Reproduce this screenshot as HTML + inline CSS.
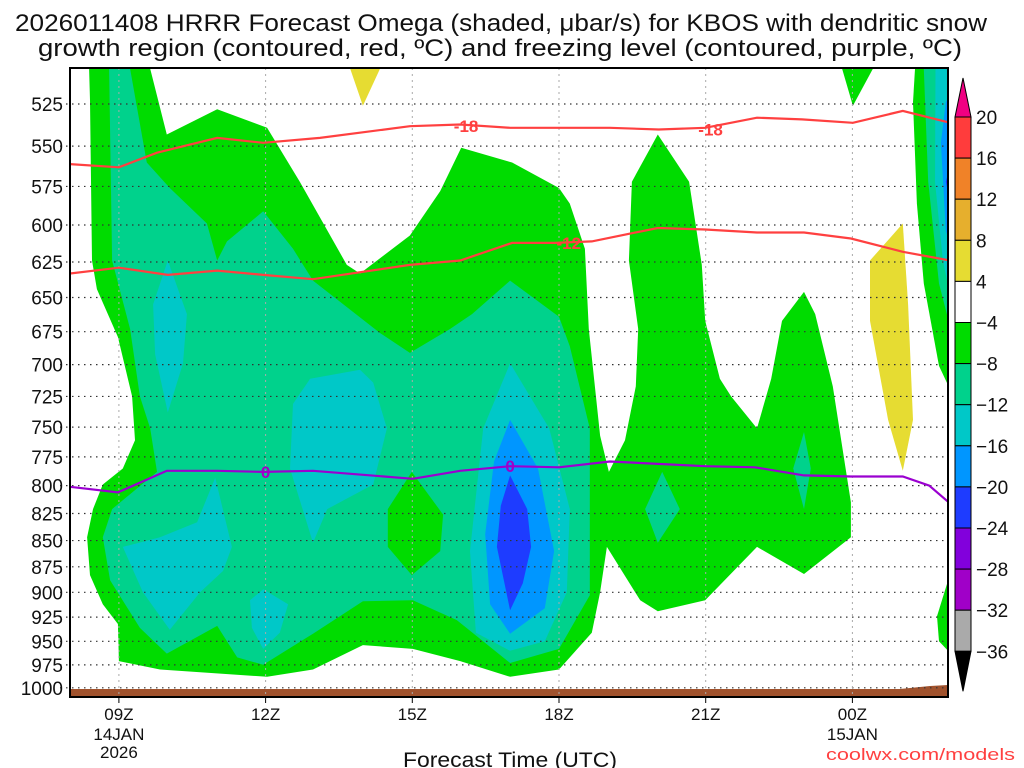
<!DOCTYPE html>
<html><head><meta charset="utf-8"><style>
body{margin:0;background:#fff;width:1024px;height:768px;overflow:hidden}
svg{display:block}
text{font-family:"Liberation Sans Narrow","Liberation Sans",sans-serif}
</style></head><body>
<svg id="chart" width="1024" height="768" viewBox="0 0 1024 768" xmlns="http://www.w3.org/2000/svg">
<defs><clipPath id="plotclip"><rect x="70" y="68" width="878" height="629"/></clipPath></defs>
<text x="15" y="31" font-size="24" fill="#111" textLength="972" lengthAdjust="spacingAndGlyphs">2026011408 HRRR Forecast Omega (shaded, μbar/s) for KBOS with dendritic snow</text>
<text x="38" y="56" font-size="24" fill="#111" textLength="924" lengthAdjust="spacingAndGlyphs">growth region (contoured, red, ºC) and freezing level (contoured, purple, ºC)</text>
<g id="fills" clip-path="url(#plotclip)"></g>
<g id="grid"></g>
<g id="lines" clip-path="url(#plotclip)"></g>
<g id="axes"></g>
<g id="cbar"></g>
<text x="403" y="767" font-size="21" fill="#111" textLength="214" lengthAdjust="spacingAndGlyphs">Forecast Time (UTC)</text>
<text x="826" y="760" font-size="17" fill="#ff4040" textLength="189" lengthAdjust="spacingAndGlyphs">coolwx.com/models</text>
</svg>
<script>
// axis domain
const hourRange=[8,26];
const presTicks=[525,550,575,600,625,650,675,700,725,750,775,800,825,850,875,900,925,950,975,1000];
const timeTicks=[9,12,15,18,21,24];
const timeLabels=["09Z","12Z","15Z","18Z","21Z","00Z"];
const dateLabels=[["14JAN","2026"],[],[],[],[],["15JAN"]];
// colour levels
const levelBounds=[20,16,12,8,4,-4,-8,-12,-16,-20,-24,-28,-32,-36];
const levelLabels=["20","16","12","8","4","−4","−8","−12","−16","−20","−24","−28","−32","−36"];
const levelColors=["#ff3c3c","#f08228","#e6af2d","#e6dc32","#ffffff","#00dc00","#00d28c","#00c8c8","#0096ff","#1e3cff","#8200dc","#a000c8","#aaaaaa"];
// filled contour regions [hour, hPa]
const regionGreenMain=[[8.39,505],[8.41,523],[8.45,624],[8.55,644],[8.98,679],[9.27,725],[9.33,761],[9.08,785],[8.67,799],[8.47,821],[8.35,847],[8.41,883],[8.67,912],[8.98,932],[9.00,971],[9.84,980],[12.03,988],[12.97,980],[13.99,954],[15.01,958],[15.98,971],[17.00,988],[18.00,980],[18.67,941],[18.84,900],[18.98,856],[19.66,908],[20.02,919],[20.99,908],[22.05,856],[23.01,882],[23.97,847],[23.97,815],[23.60,717],[23.24,662],[23.01,646],[22.56,667],[22.34,711],[22.05,751],[21.52,725],[21.29,711],[20.99,667],[20.92,627],[20.66,572],[20.02,543],[19.49,572],[19.43,624],[19.62,673],[19.57,717],[19.35,761],[19.02,788],[18.84,757],[18.61,673],[18.53,616],[18.22,586],[18.00,576],[17.04,560],[16.00,551],[15.57,578],[14.95,607],[13.93,633],[13.66,627],[12.70,572],[12.03,539],[11.01,528],[9.98,543],[9.64,505]];
const regionTealMain=[[8.80,505],[8.86,624],[9.23,673],[9.43,725],[9.64,751],[9.78,788],[8.86,821],[8.67,847],[8.82,888],[9.43,936],[9.98,963],[11.01,934],[11.42,967],[11.95,975],[12.97,942],[13.99,909],[15.01,908],[15.91,928],[17.00,973],[18.00,958],[18.63,903],[18.63,751],[18.22,686],[18.00,664],[17.00,638],[16.22,662],[15.77,673],[14.95,691],[14.34,676],[12.97,638],[12.56,616],[11.95,591],[11.21,611],[11.01,624],[10.80,599],[10.04,576],[9.57,560],[9.23,505]];
const regionGreenIsland=[[14.99,788],[15.63,826],[15.57,860],[14.99,883],[14.50,856],[14.50,821]];
const regionCyan1=[[10.00,624],[10.39,662],[10.31,699],[10.00,738],[9.74,692],[9.70,655]];
const regionCyan2=[[12.56,731],[12.91,711],[13.93,704],[14.20,714],[14.48,751],[14.20,799],[13.26,821],[12.97,852],[12.50,785]];
const regionCyan3=[[10.97,793],[11.31,856],[11.13,879],[10.66,900],[10.04,938],[9.49,900],[9.08,856],[9.84,847],[10.60,833]];
const regionCyan4=[[11.68,908],[11.95,897],[12.46,912],[12.29,941],[11.95,958],[11.72,936]];
const regionCyan5=[[17.00,699],[17.80,751],[18.22,821],[18.16,900],[17.71,950],[17.00,960],[16.30,941],[16.18,860],[16.45,751]];
const regionBlue=[[17.00,744],[17.57,785],[17.90,860],[17.71,916],[17.00,942],[16.59,912],[16.49,844],[16.67,779]];
const regionDarkBlue=[[17.00,791],[17.35,821],[17.43,856],[17.26,891],[17.00,918],[16.73,856],[16.81,818]];
const regionTealA=[[20.11,788],[20.47,821],[20.02,852],[19.76,821]];
const regionTealB=[[23.01,754],[23.15,785],[23.01,821],[22.79,785]];
const regionYellowTop=[[13.73,505],[14.34,505],[13.99,526]];
const regionGreenTop=[[23.79,505],[24.42,505],[24.01,526]];
const regionYellowCol=[[25.03,599],[25.14,655],[25.24,744],[25.03,787],[24.73,744],[24.36,667],[24.36,624]];
const regionRightGreen=[[25.28,505],[25.24,524],[25.32,586],[25.46,640],[25.77,701],[26.1,728],[26.1,505]];
const regionRightTeal=[[25.46,505],[25.55,572],[25.77,640],[26.1,686],[26.1,505]];
const regionRightCyan=[[25.70,505],[25.69,572],[25.85,624],[26.1,666],[26.1,505]];
const regionRightBlue=[[26.1,514],[25.91,524],[25.81,548],[25.91,604],[26.1,622]];
const regionRightDark=[[26.1,551],[25.91,572],[26.1,599]];
const regionRightBottom=[[26.1,879],[25.99,883],[25.73,924],[25.77,950],[26.1,968]];
// contour lines [hour, hPa]
const lineMinus18=[[8,561],[9,563],[9.78,554],[11.01,545],[11.95,548],[13.11,545],[14.95,538],[15.98,537],[17.00,539],[18.02,539],[19.04,539],[20.04,540],[20.99,539],[22.05,533],[22.97,534],[24.01,536],[25.03,529],[26,536]];
const lineMinus12=[[8,633],[9,629],[10.00,634],[11.01,631],[11.95,634],[12.97,637],[14.95,627],[15.98,624],[17.04,612],[17.92,612],[18.67,611],[20.02,602],[20.99,603],[22.05,605],[23.01,605],[23.97,609],[25.03,618],[26,624]];
const lineZero=[[8,801],[8.98,806],[9.98,787],[11.01,787],[11.95,788],[12.97,787],[15.01,794],[15.98,787],[17.00,783],[18.00,784],[19.04,779],[20.99,783],[22.01,784],[23.01,791],[23.97,792],[25.03,792],[25.57,800],[26,816]];
const contourLabels=[["-18",16.1,538,"#ff4040"],["-18",21.1,540,"#ff4040"],["-12",18.2,612,"#ff4040"],["0",12.0,788,"#a000c8"],["0",17.0,783,"#a000c8"]];

const X=h=>70+(h-8)*48.9;
const Y=p=>104+906*Math.log(p/525);
const NS="http://www.w3.org/2000/svg";
function mk(tag,attrs,parent){const e=document.createElementNS(NS,tag);for(const k in attrs)e.setAttribute(k,attrs[k]);parent.appendChild(e);return e;}
const pts=a=>a.map(d=>X(d[0]).toFixed(1)+","+Y(d[1]).toFixed(1)).join(" ");

const fills=document.getElementById('fills');
const fillList=[[regionGreenMain,"#00dc00","green-region"],[regionTealMain,"#00d28c","teal-region"],[regionGreenIsland,"#00dc00","green-island"],
[regionCyan1,"#00c8c8","cyan-region-1"],[regionCyan2,"#00c8c8","cyan-region-2"],[regionCyan3,"#00c8c8","cyan-region-3"],[regionCyan4,"#00c8c8","cyan-region-4"],[regionCyan5,"#00c8c8","cyan-region-5"],
[regionBlue,"#0096ff","blue-region"],[regionDarkBlue,"#1e3cff","dark-blue-region"],[regionTealA,"#00d28c","teal-region-a"],[regionTealB,"#00d28c","teal-region-b"],
[regionYellowTop,"#e6dc32","yellow-region-top"],[regionGreenTop,"#00dc00","green-region-top"],[regionYellowCol,"#e6dc32","yellow-region-column"],
[regionRightGreen,"#00dc00","right-green-region"],[regionRightTeal,"#00d28c","right-teal-region"],[regionRightCyan,"#00c8c8","right-cyan-region"],[regionRightBlue,"#0096ff","right-blue-region"],[regionRightDark,"#1e3cff","right-dark-blue-region"],[regionRightBottom,"#00dc00","right-bottom-green-region"]];
fillList.forEach(f=>{
  const e=mk('polygon',{points:pts(f[0]),fill:f[1]},fills);
  
  
});
const terr=mk('polygon',{points:"70,689 900,689 930,686 948,685 948,697 70,697",fill:"#a0522d"},fills);



const grid=document.getElementById('grid');
presTicks.forEach(p=>{
  const l=mk('line',{x1:60,x2:948,y1:Y(p),y2:Y(p),stroke:"#333","stroke-width":1.2,"stroke-dasharray":"1.5 4.5"},grid);
  
  
});
timeTicks.forEach(h=>{
  const l=mk('line',{x1:X(h),x2:X(h),y1:68,y2:697,stroke:"#aaa","stroke-width":1,"stroke-dasharray":"2 4"},grid);
  
  
});

const lines=document.getElementById('lines');
[[lineMinus18,"#ff4040","contour-minus18"],[lineMinus12,"#ff4040","contour-minus12"],[lineZero,"#9a00d0","contour-freezing-level"]].forEach(L=>{
  const e=mk('polyline',{points:pts(L[0]),fill:"none",stroke:L[1],"stroke-width":2.2},lines);
  
  
});
contourLabels.forEach(c=>{
  const t=mk('text',{x:X(c[1]),y:Y(c[2])+6,"text-anchor":"middle","font-size":17,"font-weight":"bold",fill:c[3]},lines);
  t.textContent=c[0];
  
  
});

const axes=document.getElementById('axes');
const fr=mk('rect',{x:70,y:68,width:878,height:629,fill:"none",stroke:"#000","stroke-width":2},axes);


presTicks.forEach(p=>{
  const t=mk('text',{x:63,y:Y(p)+7,"text-anchor":"end","font-size":19,fill:"#111"},axes);
  t.textContent=p;
  
  
});
timeTicks.forEach((h,i)=>{
  const tk=mk('line',{x1:X(h),x2:X(h),y1:697,y2:703,stroke:"#000","stroke-width":1},axes);
  
  
  const t=mk('text',{x:X(h),y:720,"text-anchor":"middle","font-size":17,fill:"#111"},axes);
  t.textContent=timeLabels[i];
  
  
  dateLabels[i].forEach((d,j)=>{
    const s=mk('text',{x:X(h),y:740+j*18,"text-anchor":"middle","font-size":17,fill:"#111"},axes);
    s.textContent=d;
    
    
  });
});

const cb=document.getElementById('cbar');
const cbTop=117, cbStep=41.1, cbX=955, cbW=16;
const up=mk('polygon',{points:`${cbX},${cbTop} ${cbX+cbW},${cbTop} ${cbX+cbW/2},78`,fill:"#f00082",stroke:"#000","stroke-width":1},cb);


levelColors.forEach((c,i)=>{
  const r=mk('rect',{x:cbX,y:cbTop+i*cbStep,width:cbW,height:cbStep,fill:c,stroke:"#000","stroke-width":1},cb);
  
  
});
const bot=cbTop+levelColors.length*cbStep;
const dn=mk('polygon',{points:`${cbX},${bot} ${cbX+cbW},${bot} ${cbX+cbW/2},${bot+40}`,fill:"#000",stroke:"#000","stroke-width":1},cb);


levelLabels.forEach((l,i)=>{
  const t=mk('text',{x:976,y:cbTop+i*cbStep+7,"font-size":19,fill:"#111"},cb);
  t.textContent=l;
  
  
});
</script>
</body></html>
